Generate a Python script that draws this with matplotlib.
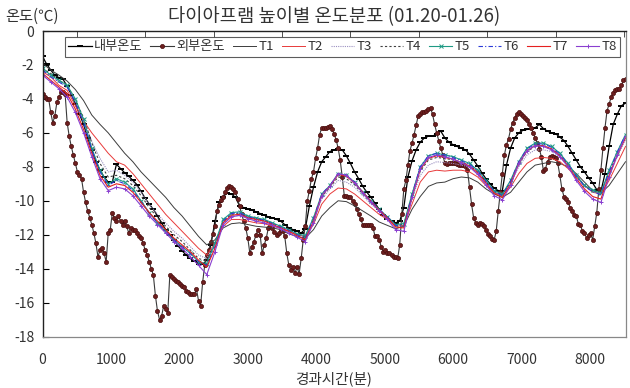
import numpy as np
import matplotlib
matplotlib.use('Agg')
import matplotlib.pyplot as plt

plt.rcParams['font.family'] = ['Noto Sans CJK KR', 'DejaVu Sans']
plt.rcParams['axes.unicode_minus'] = False

# 외부온도: 30분 간격
t_out = np.arange(0, 8521, 30)
out_temp = [
    -3.7, -3.9, -4.0, -4.0, -4.8, -5.4, -5.0, -4.2, -3.9, -3.6,
    -3.6, -3.7, -5.4, -6.2, -6.8, -7.3, -7.8, -8.3, -8.5, -8.7,
    -9.5, -10.1, -10.6, -11.0, -11.4, -11.9, -12.5, -13.3, -12.9, -12.8,
    -13.1, -13.6, -11.9, -11.7, -10.7, -11.0, -11.2, -10.9, -11.2, -11.4,
    -11.2, -11.5, -11.9, -11.6, -11.7, -11.7, -11.9, -12.1, -12.2, -12.5,
    -12.9, -13.2, -13.6, -14.0, -14.4, -15.6, -16.5, -17.0, -16.8, -16.2,
    -16.4, -16.6, -14.4, -14.5, -14.6, -14.7, -14.8, -14.9, -15.0, -15.1,
    -15.3, -15.4, -15.5, -15.5, -15.5, -15.2, -15.9, -16.2, -14.8, -13.8,
    -13.2, -12.9, -12.4, -11.95, -11.5, -10.6, -10.25, -9.95, -9.75, -9.5,
    -9.25, -9.15, -9.2, -9.3, -9.5, -9.9, -10.3, -10.8, -11.2, -11.6,
    -12.2, -13.1, -12.7, -12.4, -12.0, -11.7, -12.0, -13.1, -12.6, -12.2,
    -11.6, -11.5, -11.6, -11.85, -12.0, -11.9, -11.75, -11.8, -12.1, -13.1,
    -13.8, -14.1, -13.9, -14.25, -13.9, -14.3, -13.4, -12.3, -11.5, -10.0,
    -9.4, -8.7, -8.3, -7.5, -6.9, -6.1, -5.7, -5.7, -5.7, -5.65,
    -5.6, -5.8, -6.05, -6.4, -6.9, -7.6, -8.6, -9.7, -9.7, -9.75,
    -9.8, -10.0, -10.2, -10.5, -10.8, -11.1, -11.4, -11.45, -11.4, -11.4,
    -11.4, -11.6, -12.1, -12.05, -12.3, -12.7, -13.0, -12.9, -13.05, -13.05,
    -13.2, -13.3, -13.3, -13.4, -12.6, -10.8, -9.3, -8.8, -7.9, -7.05,
    -6.6, -6.1, -5.55, -5.0, -4.9, -4.8, -4.75, -4.7, -4.6, -4.55,
    -4.9, -5.5, -6.0, -6.45, -6.9, -7.3, -7.8, -7.85, -7.8, -7.75,
    -7.75, -7.8, -7.85, -7.9, -7.9, -7.9, -7.95, -8.2, -9.2, -10.2,
    -11.0, -11.3, -11.4, -11.3, -11.35, -11.5, -11.7, -11.95, -12.1, -12.25,
    -12.3, -11.8, -10.6, -9.5, -8.4, -7.3, -6.7, -6.35, -5.8, -5.4,
    -5.15, -4.9, -4.8, -4.9, -5.0, -5.1, -5.25, -5.45, -5.7, -6.0,
    -6.3, -6.6, -6.95, -7.4, -8.25, -8.1, -7.7, -7.45, -7.35, -7.45,
    -7.5, -7.8, -8.5, -9.3, -9.75, -9.9, -10.05, -10.4, -10.6, -10.85,
    -10.9, -11.35, -11.4, -11.8, -11.9, -12.2, -12.0, -11.9, -12.3, -11.5,
    -10.7, -9.3, -8.2, -6.9, -5.7, -4.7, -4.3, -3.9, -3.65, -3.5,
    -3.4, -3.4, -3.2, -2.9, -2.85,
]

# 내부온도: 1시간 간격
t_in = np.arange(0, 8521, 60)
in_temp = [
    -1.5, -1.95, -2.3, -2.6, -2.75, -2.85, -3.25, -3.75, -4.3, -4.9,
    -5.5, -6.3, -7.0, -7.7, -8.2, -8.6, -8.9, -8.9, -7.85, -8.1,
    -8.35, -8.55, -8.8, -9.05, -9.45, -9.85, -10.2, -10.5, -10.9, -11.3,
    -11.7, -12.0, -12.3, -12.65, -12.95, -13.2, -13.4, -13.55, -13.7, -13.75,
    -13.5, -12.6, -11.2, -10.1, -9.75, -9.55, -9.6, -9.8, -10.3, -10.4,
    -10.5, -10.55, -10.65, -10.75, -10.85, -10.95, -11.0, -11.1, -11.2, -11.4,
    -11.6, -11.7, -11.8, -11.9, -11.65, -10.3, -9.2, -8.3, -7.7, -7.4,
    -7.1, -7.0, -6.95, -7.0, -7.35, -7.8, -8.3, -8.7, -9.15, -9.5,
    -9.8, -10.15, -10.5, -10.85, -11.05, -11.2, -11.3, -11.2, -10.4, -8.6,
    -7.65, -7.0, -6.55, -6.3, -6.2, -6.2, -6.05, -5.9, -6.3, -6.55,
    -6.7, -6.8, -6.9, -7.0, -7.25, -7.6, -7.95, -8.35, -8.7, -9.0,
    -9.25, -9.4, -9.4, -7.9, -6.9, -6.3, -6.0, -5.85, -5.8, -5.75,
    -5.7, -5.5, -5.75, -5.9, -6.0, -6.05, -6.25, -6.45, -6.8, -7.2,
    -7.6, -8.0, -8.3, -8.65, -8.95, -9.35, -9.45, -8.4, -6.8, -5.5,
    -4.9, -4.4, -4.25,
]

# 다이아프램 높이별 센서 T1~T8: 2시간 간격
t_sensor = np.arange(0, 8521, 120)
T1 = [
    -1.9, -2.3, -2.6, -2.95, -3.45, -4.1, -4.95, -5.5, -6.0, -6.6,
    -7.2, -7.7, -8.3, -8.8, -9.3, -9.8, -10.4, -10.9, -11.5, -12.1,
    -12.6, -12.3, -11.6, -11.35, -11.3, -11.4, -11.5, -11.55, -11.6, -11.7,
    -11.95, -12.1, -12.2, -11.7, -10.9, -10.4, -10.0, -10.05, -10.3, -10.6,
    -10.9, -11.25, -11.45, -11.65, -11.5, -10.5, -9.75, -9.15, -8.95, -8.9,
    -8.7, -8.6, -8.65, -8.9, -9.3, -9.6, -9.8, -9.5, -8.9, -8.3,
    -7.9, -7.8, -7.7, -7.8, -8.0, -8.4, -8.9, -9.4, -9.55, -9.1,
    -8.4, -7.7,
]
T2 = [
    -2.4, -2.7, -3.2, -3.5, -4.4, -5.3, -6.0, -6.6, -7.2, -7.7,
    -7.9, -8.4, -9.0, -9.6, -10.2, -10.8, -11.3, -11.8, -12.3, -12.8,
    -13.2, -12.5, -11.5, -11.1, -11.1, -11.2, -11.3, -11.35, -11.5, -11.6,
    -11.8, -12.0, -12.1, -11.4, -10.2, -9.6, -9.25, -9.3, -9.6, -10.0,
    -10.4, -10.8, -11.1, -11.5, -11.45, -10.2, -8.9, -8.3, -8.2, -8.25,
    -8.2, -8.2, -8.3, -8.6, -9.1, -9.5, -9.7, -9.2, -8.4, -7.8,
    -7.5, -7.45, -7.5, -7.7, -8.1, -8.6, -9.1, -9.5, -9.6, -8.8,
    -7.8, -6.8,
]
T3 = [
    -2.3, -2.6, -3.0, -3.3, -4.2, -5.2, -6.5, -7.5, -8.3, -8.2,
    -8.5, -8.9, -9.5, -10.2, -10.8, -11.3, -11.8, -12.2, -12.7, -13.2,
    -13.4, -12.5, -11.3, -10.9, -10.9, -11.0, -11.15, -11.2, -11.4, -11.55,
    -11.75, -12.0, -12.1, -11.2, -9.9, -9.3, -8.8, -8.9, -9.2, -9.7,
    -10.2, -10.6, -11.0, -11.45, -11.4, -9.9, -8.5, -7.9, -7.7, -7.75,
    -7.8, -7.9, -8.0, -8.4, -8.9, -9.45, -9.65, -9.0, -8.0, -7.3,
    -7.0, -7.0, -7.1, -7.4, -7.9, -8.5, -9.1, -9.5, -9.55, -8.5,
    -7.4, -6.4,
]
T4 = [
    -2.2, -2.5, -2.9, -3.2, -4.1, -5.1, -6.6, -7.8, -8.6, -8.5,
    -8.7, -9.1, -9.7, -10.4, -11.0, -11.5, -12.0, -12.4, -12.9, -13.4,
    -13.55, -12.6, -11.2, -10.8, -10.75, -10.95, -11.05, -11.15, -11.35, -11.5,
    -11.7, -11.95, -12.1, -11.1, -9.75, -9.2, -8.6, -8.7, -9.05, -9.6,
    -10.1, -10.55, -10.95, -11.4, -11.4, -9.75, -8.25, -7.6, -7.45, -7.5,
    -7.6, -7.75, -7.9, -8.3, -8.85, -9.4, -9.6, -8.9, -7.85, -7.1,
    -6.8, -6.8, -6.95, -7.3, -7.85, -8.5, -9.1, -9.45, -9.5, -8.35,
    -7.25, -6.25,
]
T5 = [
    -2.2, -2.6, -2.9, -3.2, -4.0, -5.2, -6.9, -8.2, -9.0, -8.7,
    -8.9, -9.3, -10.0, -10.7, -11.3, -11.8, -12.3, -12.7, -13.1, -13.6,
    -13.7, -12.5, -11.1, -10.7, -10.65, -10.9, -11.0, -11.1, -11.3, -11.5,
    -11.7, -11.95, -12.05, -11.0, -9.6, -9.1, -8.4, -8.5, -8.9, -9.5,
    -10.0, -10.5, -10.95, -11.4, -11.35, -9.6, -8.0, -7.35, -7.2, -7.3,
    -7.4, -7.6, -7.8, -8.2, -8.8, -9.4, -9.6, -8.8, -7.7, -6.9,
    -6.6, -6.6, -6.8, -7.2, -7.8, -8.5, -9.1, -9.35, -9.55, -8.2,
    -7.1, -6.1,
]
T6 = [
    -2.3, -2.7, -3.0, -3.3, -4.2, -5.4, -7.0, -8.3, -9.1, -8.8,
    -9.0, -9.4, -10.05, -10.75, -11.3, -11.8, -12.3, -12.7, -13.1, -13.6,
    -13.8, -12.7, -11.2, -10.75, -10.7, -10.95, -11.05, -11.15, -11.35, -11.55,
    -11.75, -12.0, -12.2, -11.05, -9.6, -9.1, -8.4, -8.5, -8.9, -9.5,
    -10.0, -10.5, -10.95, -11.45, -11.5, -9.65, -8.0, -7.35, -7.2, -7.3,
    -7.45, -7.65, -7.85, -8.25, -8.85, -9.45, -9.7, -8.85, -7.7, -6.95,
    -6.65, -6.65, -6.85, -7.25, -7.85, -8.55, -9.15, -9.45, -9.65, -8.3,
    -7.15, -6.1,
]
T7 = [
    -2.5, -2.9, -3.3, -3.7, -4.6, -5.8, -7.2, -8.5, -9.2, -9.0,
    -9.1, -9.5, -10.1, -10.7, -11.2, -11.7, -12.2, -12.6, -13.0, -13.5,
    -13.9, -12.8, -11.3, -10.85, -10.8, -11.0, -11.1, -11.2, -11.4, -11.6,
    -11.8, -12.05, -12.3, -11.2, -9.7, -9.15, -8.45, -8.55, -8.95, -9.5,
    -10.05, -10.55, -11.0, -11.55, -11.6, -9.8, -8.15, -7.5, -7.35, -7.45,
    -7.55, -7.75, -7.95, -8.35, -8.95, -9.55, -9.8, -9.0, -7.8, -7.05,
    -6.75, -6.75, -6.95, -7.35, -7.95, -8.7, -9.3, -9.75, -9.9, -8.5,
    -7.3, -6.3,
]
T8 = [
    -2.6, -3.0, -3.4, -3.9, -4.8, -6.0, -7.4, -8.7, -9.4, -9.2,
    -9.3, -9.7, -10.3, -10.9, -11.4, -11.9, -12.4, -12.8, -13.3, -13.8,
    -14.35, -13.0, -11.4, -10.95, -10.85, -11.05, -11.2, -11.3, -11.45, -11.65,
    -11.9, -12.15, -12.4, -11.3, -9.7, -9.15, -8.4, -8.5, -8.95, -9.55,
    -10.1, -10.6, -11.1, -11.7, -11.8, -9.8, -8.1, -7.45, -7.3, -7.4,
    -7.55, -7.75, -8.0, -8.45, -9.05, -9.7, -9.95, -9.1, -7.8, -7.05,
    -6.75, -6.8, -7.0, -7.4, -8.0, -8.8, -9.45, -9.9, -10.1, -8.6,
    -7.3, -6.2,
]

x_ticks = np.arange(0, 8001, 1000)
y_ticks = np.arange(-18, 1, 2)

fig = plt.figure(figsize=(6.3, 3.88), dpi=100)
ax = fig.add_axes([0.0675, 0.1325, 0.9254, 0.7876])

ax.plot(t_in, in_temp, color='black', lw=0.9, marker='_', ms=4, mew=1.4,
        label='내부온도')
ax.plot(t_out, out_temp, color='#3a3a3a', lw=0.8, marker='o', ms=3.0,
        mfc='#6e1f1f', mec='#4a0f0f', mew=0.5, label='외부온도')
ax.plot(t_sensor, T1, color='#3c3c3c', lw=0.7, label='T1')
ax.plot(t_sensor, T2, color='#e83a3a', lw=0.7, label='T2')
ax.plot(t_sensor, T3, color='#9a8fc0', lw=0.8, ls=(0, (1, 1)), label='T3')
ax.plot(t_sensor, T4, color='#404040', lw=0.8, ls=(0, (2, 2)), label='T4')
ax.plot(t_sensor, T5, color='#1f9a84', lw=0.8, marker='x', ms=2.5, mew=0.7,
        label='T5')
ax.plot(t_sensor, T6, color='#2a3ad8', lw=0.8, ls=(0, (4, 2, 1, 2)), label='T6')
ax.plot(t_sensor, T7, color='#e52020', lw=0.8, label='T7')
ax.plot(t_sensor, T8, color='#8a3fd0', lw=0.8, marker='+', ms=3.5, mew=0.7,
        label='T8')

ax.set_xlim(0, 8520)
ax.set_ylim(-18, 0)
ax.set_xticks(x_ticks)
ax.set_xticks(np.arange(500, 8520, 1000), minor=True)
ax.set_yticks(y_ticks)
ax.tick_params(axis='x', which='major', length=0, pad=12, labelsize=10,
               labelcolor='#333333')
ax.tick_params(axis='x', which='minor', bottom=False, top=True,
               direction='in', length=4, color='#333333')
ax.tick_params(axis='y', which='major', direction='in', length=4,
               labelsize=10, labelcolor='#333333', pad=6)

for side in ['left', 'top']:
    ax.spines[side].set_color('#222222')
    ax.spines[side].set_linewidth(1.0)
for side in ['right', 'bottom']:
    ax.spines[side].set_color('#888888')
    ax.spines[side].set_linewidth(0.9)

leg = ax.legend(loc='upper center', bbox_to_anchor=(0.5146, 0.98), ncol=10,
                fontsize=9.5, frameon=True, fancybox=False, edgecolor='#333333',
                handlelength=1.8, handletextpad=0.15, columnspacing=0.6,
                borderpad=0.25, borderaxespad=0.0)
leg.get_frame().set_linewidth(0.8)
for txt in leg.get_texts():
    txt.set_color('#333333')

fig.text(0.53, 0.958, '다이아프램 높이별 온도분포 (01.20-01.26)', ha='center',
         va='center', fontsize=13.5, color='#333333', fontweight='light')
fig.text(0.008, 0.958, '온도(℃)', ha='left', va='center', fontsize=11,
         color='#333333', fontweight='light')
ax.set_xlabel('경과시간(분)', fontsize=10.5, color='#333333', labelpad=3)

plt.savefig('out.png', dpi=100)
plt.close()
